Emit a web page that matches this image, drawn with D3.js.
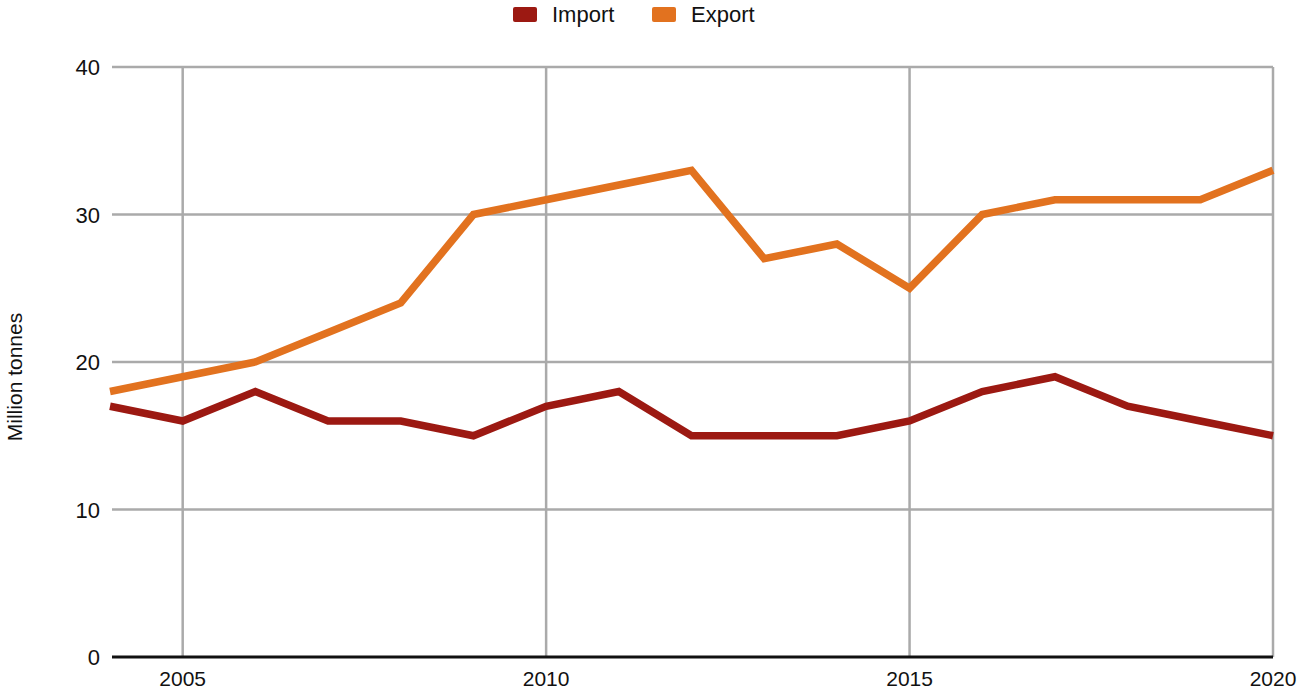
<!DOCTYPE html>
<html>
<head>
<meta charset="utf-8">
<script src="https://cdn.jsdelivr.net/npm/d3@7"></script>
<style>
  body { margin: 0; background: #fff; }
  text { font-family: "Liberation Sans", Arial, sans-serif; fill: #111; }
</style>
</head>
<body>
<div id="chart"></div>
<script>
// data
var years = [2004, 2005, 2006, 2007, 2008, 2009, 2010, 2011, 2012, 2013, 2014, 2015, 2016, 2017, 2018, 2019, 2020];
var importVals = [17, 16, 18, 16, 16, 15, 17, 18, 15, 15, 15, 16, 18, 19, 17, 16, 15];
var exportVals = [18, 19, 20, 22, 24, 30, 31, 32, 33, 27, 28, 25, 30, 31, 31, 31, 33];
var xTicks = [2005, 2010, 2015, 2020];
var yTicks = [0, 10, 20, 30, 40];

var width = 1301;
var height = 692;

var svg = d3.select("#chart")
  .append("svg")
  .attr("width", width)
  .attr("height", height);

var xScale = d3.scaleLinear().domain([2004, 2020]).range([110, 1273]);
var yScale = d3.scaleLinear().domain([0, 40]).range([657, 67]);

// grid
svg.append("g")
  .selectAll("line")
  .data(yTicks.filter(function(d) { return d > 0; }))
  .enter()
  .append("line")
  .attr("x1", 112)
  .attr("x2", 1273)
  .attr("y1", function(d) { return yScale(d); })
  .attr("y2", function(d) { return yScale(d); })
  .attr("stroke", "#aaa")
  .attr("stroke-width", 2.5);

svg.append("g")
  .selectAll("line")
  .data(xTicks)
  .enter()
  .append("line")
  .attr("x1", function(d) { return xScale(d); })
  .attr("x2", function(d) { return xScale(d); })
  .attr("y1", yScale(40))
  .attr("y2", yScale(0))
  .attr("stroke", "#aaa")
  .attr("stroke-width", 2.5);

// y tick labels
svg.append("g")
  .selectAll("text")
  .data(yTicks)
  .enter()
  .append("text")
  .attr("x", 100)
  .attr("y", function(d) { return yScale(d) + 8; })
  .attr("text-anchor", "end")
  .style("font-size", "22px")
  .text(function(d) { return d; });

// x tick labels
svg.append("g")
  .selectAll("text")
  .data(xTicks)
  .enter()
  .append("text")
  .attr("x", function(d) { return xScale(d); })
  .attr("y", 686)
  .attr("text-anchor", "middle")
  .style("font-size", "21px")
  .text(function(d) { return d; });

// axis title
svg.append("text")
  .attr("transform", "translate(22," + 377 + ")rotate(-90)")
  .attr("text-anchor", "middle")
  .style("font-size", "21px")
  .text("Million tonnes");

// lines
var series = [
  { name: "Import", values: importVals, color: "#9c1912" },
  { name: "Export", values: exportVals, color: "#e2721f" }
];

var line = d3.line()
  .x(function(d, i) { return xScale(years[i]); })
  .y(function(d) { return yScale(d); });

series.forEach(function(s) {
  svg.append("path")
    .datum(s.values)
    .attr("d", line)
    .attr("fill", "none")
    .attr("stroke", s.color)
    .attr("stroke-width", 7.5)
    .attr("stroke-linejoin", "miter");
});

// baseline
svg.append("line")
  .attr("x1", 112)
  .attr("x2", 1273)
  .attr("y1", yScale(0))
  .attr("y2", yScale(0))
  .attr("stroke", "#111")
  .attr("stroke-width", 3);

// legend
var legendX = [513, 652];
var legend = svg.append("g");
series.forEach(function(s, i) {
  legend.append("rect")
    .attr("x", legendX[i])
    .attr("y", 7)
    .attr("width", 24)
    .attr("height", 15)
    .attr("rx", 2)
    .attr("fill", s.color);
  legend.append("text")
    .attr("x", legendX[i] + 39)
    .attr("y", 22)
    .style("font-size", "22px")
    .text(s.name);
});
</script>
</body>
</html>
